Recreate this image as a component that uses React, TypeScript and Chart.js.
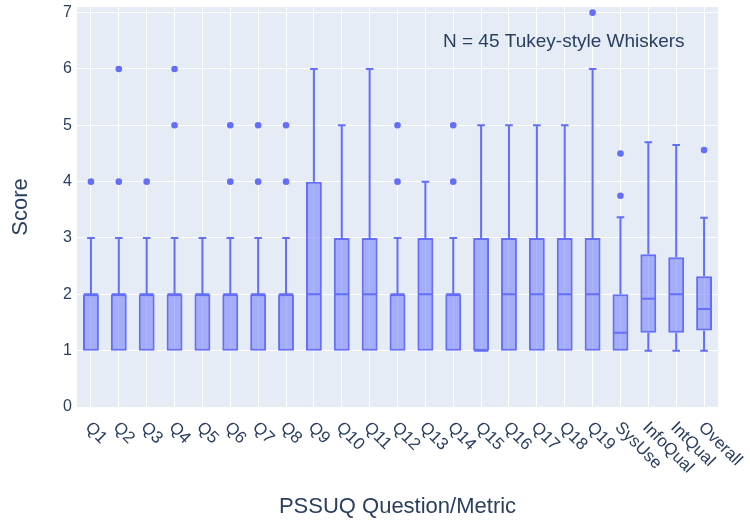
import React, { useEffect, useRef } from "react";
import { Chart, registerables } from "chart.js";

Chart.register(...registerables);

const categories = [
  "Q1", "Q2", "Q3", "Q4", "Q5", "Q6", "Q7", "Q8", "Q9", "Q10",
  "Q11", "Q12", "Q13", "Q14", "Q15", "Q16", "Q17", "Q18", "Q19",
  "SysUse", "InfoQual", "IntQual", "Overall",
];
const lowerWhisker = [1, 1, 1, 1, 1, 1, 1, 1, 1, 1, 1, 1, 1, 1, 1, 1, 1, 1, 1, 1, 1, 1, 1];
const q1Values = [1, 1, 1, 1, 1, 1, 1, 1, 1, 1, 1, 1, 1, 1, 1, 1, 1, 1, 1, 1, 1.32, 1.32, 1.36];
const medians = [2, 2, 2, 2, 2, 2, 2, 2, 2, 2, 2, 2, 2, 2, 1, 2, 2, 2, 2, 1.32, 1.92, 2.0, 1.74];
const q3Values = [2, 2, 2, 2, 2, 2, 2, 2, 4, 3, 3, 2, 3, 2, 3, 3, 3, 3, 3, 2, 2.71, 2.66, 2.32];
const upperWhisker = [3, 3, 3, 3, 3, 3, 3, 3, 6, 5, 6, 3, 4, 3, 5, 5, 5, 5, 6, 3.37, 4.7, 4.65, 3.36];
const outliers: number[][] = [
  [4], [4, 6], [4], [5, 6], [], [4, 5], [4, 5], [4, 5], [], [], [],
  [4, 5], [], [4, 5], [], [], [], [], [7], [3.75, 4.5], [], [], [4.56],
];
const yTicks = [0, 1, 2, 3, 4, 5, 6, 7];
const annotationText = "N = 45 Tukey-style Whiskers";
const xTitle = "PSSUQ Question/Metric";
const yTitle = "Score";

const FONT = '"Liberation Sans", Arial, sans-serif';
const TEXT = "#2a3f5f";
const LINE = "#636efa";
const FILL = "rgba(99,110,250,0.5)";

const boxPlugin = {
  id: "boxExtras",
  beforeDraw(chart: any) {
    const { ctx, chartArea } = chart;
    ctx.save();
    ctx.fillStyle = "#ffffff";
    ctx.fillRect(0, 0, chart.width, chart.height);
    ctx.fillStyle = "#E5ECF6";
    ctx.fillRect(chartArea.left, chartArea.top, chartArea.right - chartArea.left, chartArea.bottom - chartArea.top);
    ctx.restore();
  },
  afterDatasetsDraw(chart: any) {
    const { ctx, chartArea } = chart;
    const y = chart.scales.y;
    const meta = chart.getDatasetMeta(0);
    ctx.save();
    ctx.beginPath();
    ctx.rect(chartArea.left, chartArea.top, chartArea.right - chartArea.left, chartArea.bottom - chartArea.top);
    ctx.clip();
    ctx.strokeStyle = LINE;
    ctx.lineWidth = 2;
    ctx.lineCap = "butt";
    meta.data.forEach((el: any, i: number) => {
      const x = el.x;
      const w = el.width;
      const cap = w * 0.24;
      const yq1 = y.getPixelForValue(q1Values[i]);
      const yq3 = y.getPixelForValue(q3Values[i]);
      const yHi = y.getPixelForValue(upperWhisker[i]);
      const yLo = y.getPixelForValue(lowerWhisker[i]);
      const yMed = y.getPixelForValue(medians[i]);
      ctx.beginPath();
      if (upperWhisker[i] > q3Values[i]) {
        ctx.moveTo(x, yq3);
        ctx.lineTo(x, yHi);
        ctx.moveTo(x - cap, yHi);
        ctx.lineTo(x + cap, yHi);
      }
      if (lowerWhisker[i] < q1Values[i]) {
        ctx.moveTo(x, yq1);
        ctx.lineTo(x, yLo);
        ctx.moveTo(x - cap, yLo);
        ctx.lineTo(x + cap, yLo);
      }
      ctx.moveTo(x - w / 2 + 1, yMed);
      ctx.lineTo(x + w / 2 - 1, yMed);
      ctx.stroke();
    });
    ctx.restore();
  },
  afterDraw(chart: any) {
    const { ctx, chartArea } = chart;
    const xs = chart.scales.x;
    ctx.save();
    ctx.fillStyle = TEXT;
    ctx.font = `17px ${FONT}`;
    ctx.textAlign = "left";
    ctx.textBaseline = "middle";
    categories.forEach((label, i) => {
      const px = xs.getPixelForTick(i);
      ctx.save();
      ctx.translate(px - 3, chartArea.bottom + 18);
      ctx.rotate(Math.PI / 4);
      ctx.fillText(label, 0, 0);
      ctx.restore();
    });
    ctx.font = `19px ${FONT}`;
    ctx.textAlign = "left";
    ctx.fillText(annotationText, chartArea.left + 366, chartArea.top + 35);
    ctx.restore();
  },
};

export default function App() {
  const ref = useRef<HTMLCanvasElement | null>(null);
  useEffect(() => {
    if (!ref.current) return;
    const scatterData: { x: string; y: number }[] = [];
    outliers.forEach((vals, i) => vals.forEach((v) => scatterData.push({ x: categories[i], y: v })));
    const chart = new Chart(ref.current, {
      type: "bar",
      data: {
        labels: categories,
        datasets: [
          {
            type: "bar",
            data: categories.map((_, i) => [q1Values[i], q3Values[i]]) as any,
            backgroundColor: FILL,
            borderColor: LINE,
            borderWidth: 2,
            borderSkipped: false,
            categoryPercentage: 1,
            barPercentage: 0.57,
          } as any,
          {
            type: "scatter",
            data: scatterData as any,
            backgroundColor: LINE,
            borderWidth: 0,
            pointRadius: 3.3,
            pointHoverRadius: 3.3,
          } as any,
        ],
      },
      options: {
        responsive: false,
        animation: false,
        devicePixelRatio: 1,
        layout: { padding: { top: 7, right: 32, left: 0, bottom: 0 } },
        plugins: { legend: { display: false }, tooltip: { enabled: false } },
        scales: {
          x: {
            type: "category",
            offset: true,
            grid: { color: "#ffffff", lineWidth: 1, offset: false, drawTicks: false },
            border: { display: false },
            ticks: { display: false },
            title: {
              display: true,
              text: xTitle,
              color: TEXT,
              font: { family: FONT, size: 22 },
              padding: { top: 0, bottom: 5 },
            },
            afterFit: (s: any) => {
              s.height = 118;
              s.paddingLeft = 0;
              s.paddingRight = 0;
            },
          },
          y: {
            type: "linear",
            min: 0,
            max: 7.1,
            grid: { color: "#ffffff", lineWidth: 1, drawTicks: false },
            border: { display: false },
            afterBuildTicks: (s: any) => {
              s.ticks = yTicks.map((v) => ({ value: v }));
            },
            ticks: {
              color: TEXT,
              font: { family: FONT, size: 16 },
              padding: 5,
              callback: (v: any) => String(v),
            },
            title: {
              display: true,
              text: yTitle,
              color: TEXT,
              font: { family: FONT, size: 22 },
              padding: { top: 8, bottom: 0 },
            },
            afterFit: (s: any) => {
              s.width = 77;
              s.paddingTop = 0;
              s.paddingBottom = 0;
            },
          },
        },
      } as any,
      plugins: [boxPlugin],
    });
    return () => chart.destroy();
  }, []);
  return (
    <div style={{ position: "fixed", left: 0, top: 0, width: 750, height: 525, background: "#fff" }}>
      <canvas ref={ref} width={750} height={525} style={{ display: "block" }} />
    </div>
  );
}
